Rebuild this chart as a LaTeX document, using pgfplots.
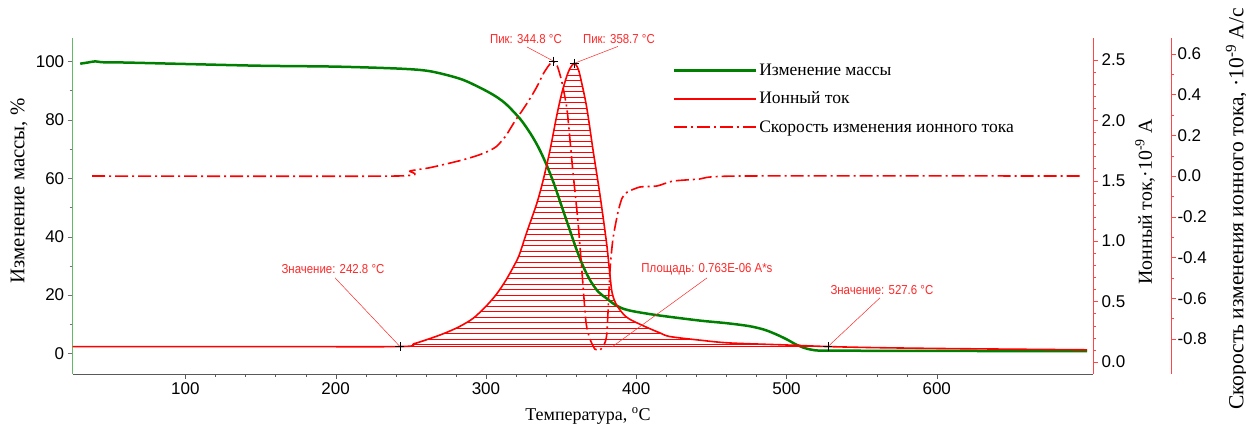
\documentclass[border=0pt]{standalone}
\usepackage{fontspec}
\setmainfont{Liberation Serif}
\newfontfamily\arialfont{Liberation Sans}
\newfontfamily\annfont[FakeStretch=0.88]{Liberation Sans}
\usepackage{pgfplots}
\pgfplotsset{compat=1.18}
\usepackage{pgfplotstable}
\usepgfplotslibrary{fillbetween}
\usetikzlibrary{patterns}

\definecolor{mgreen}{RGB}{0,128,0}
\definecolor{axgreen}{RGB}{100,185,100}
\definecolor{cred}{RGB}{255,0,0}
\definecolor{axred}{RGB}{255,70,70}
\definecolor{ann}{RGB}{255,40,40}

\pgfdeclarepatterninherentlycolored{redhlines}{\pgfpoint{-1pt}{-1pt}}{\pgfpoint{11pt}{6.5pt}}{\pgfpoint{10pt}{5.5pt}}{%
  \pgfsetcolor{cred}\pgfsetlinewidth{0.8pt}%
  \pgfpathmoveto{\pgfpoint{-1pt}{2.75pt}}\pgfpathlineto{\pgfpoint{11pt}{2.75pt}}\pgfusepath{stroke}}

\pgfplotstableread{
T M
30 99.2
35 99.6
40 100.0
45 99.7
60 99.6
100 99.1
150 98.5
200 98.2
243 97.5
263 96.6
283 94.0
296 91.0
305 88.5
312 86.0
318 83.0
324 79.5
330 75.0
335 70.5
340 65.0
345 58.5
350 51.0
355 43.5
360 36.0
365 29.5
370 24.5
375 21.0
380 19.0
385 17.0
390 15.6
395 14.8
402 14.1
415.8 13
442 11.3
460 10.4
475 9.4
485 8.2
493 6.6
500 4.9
506 3.2
512 1.9
518 1.2
527.6 1.0
600 0.9
700 0.8
}\massdata

\pgfplotstableread{
T I
25 0.127
150 0.127
242.8 0.127
252 0.15
262 0.19
272 0.235
282 0.29
291.4 0.36
300 0.46
307 0.56
313 0.67
318 0.78
322 0.88
327.1 1.07
333.8 1.31
338 1.5
342.6 1.75
347 2.03
350.4 2.22
353.7 2.36
356 2.43
358.7 2.47
360.8 2.44
362.6 2.37
367 2.11
371.3 1.75
375.9 1.38
380.3 0.98
382.5 0.72
384 0.57
387 0.47
393.6 0.37
404.5 0.30
415.8 0.24
422.4 0.21
442.4 0.18
462 0.157
500 0.14
527.6 0.127
560 0.118
610 0.11
700 0.10
}\iondata

\pgfplotstableread{
T R
38 0
240 0
249.5 0.025
262 0.04
274 0.06
285 0.08
294 0.10
301 0.12
307 0.145
313 0.195
319.3 0.27
324 0.32
329.3 0.38
334 0.44
338 0.50
341.5 0.54
344.8 0.565
347.5 0.54
350.6 0.46
353.9 0.33
355.9 0.18
357.9 0.02
361.2 -0.22
363.9 -0.47
366.6 -0.72
369.2 -0.80
372.5 -0.85
375.9 -0.855
378.5 -0.83
380.5 -0.77
382.5 -0.47
384.5 -0.31
387.8 -0.18
390.5 -0.11
393.8 -0.08
402.5 -0.054
413.8 -0.049
424.4 -0.025
442 -0.015
469 0
697 0
}\ratedata

\tikzset{
  annot/.style={text=ann, font=\annfont\fontsize{13}{13}\selectfont, inner sep=0pt},
  lead/.style={draw=ann, line width=0.5pt},
}

\begin{document}
\begin{tikzpicture}
\pgfplotsset{
  common/.style={scale only axis, height=336pt, at={(0pt,0pt)}, anchor=south west,
    xmin=25, tick align=outside, major tick length=5pt, minor tick length=3pt,
    /pgf/number format/assume math mode=true,
    ticklabel style={font=\arialfont\fontsize{17}{17}\selectfont},
  },
}
% ---------- mass axis ----------
\begin{axis}[common, width=1020.3pt, xmax=704, ymin=-7, ymax=108,
  axis x line*=bottom, axis y line*=left,
  x axis line style={draw=black!65}, y axis line style={draw=axgreen},
  xtick={100,200,...,600}, minor x tick num=4,
  ytick={0,20,...,100}, minor y tick num=1,
  x tick style={black!65}, y tick style={black!55},
  xlabel={Температура, \textsuperscript{o}C},
  ylabel={Изменение массы, \%},
  every axis x label/.style={at={(axis description cs:0.505,-0.125)}, anchor=center, font=\fontsize{18}{18}\selectfont},
  every axis y label/.style={at={(axis description cs:-0.0526,0.545)}, rotate=90, anchor=center, font=\fontsize{20.8}{20.8}\selectfont},
  legend style={at={(axis description cs:0.585,0.935)}, anchor=north west, draw=none, fill=none,
    font=\fontsize{17.5}{17.5}\selectfont, row sep=11pt, legend cell align=left},
  legend image code/.code={\draw[#1] (0pt,0pt) -- (82pt,0pt);},
]
\addplot[mgreen, line width=2.5pt, smooth, tension=0.5, forget plot] table[x=T,y=M] {\massdata};
\addlegendimage{mgreen, line width=2.5pt}
\addlegendentry{Изменение массы}
\addlegendimage{cred, line width=2pt}
\addlegendentry{Ионный ток}
\addlegendimage{cred, line width=1.6pt, dash pattern=on 13pt off 4pt on 2pt off 4pt}
\addlegendentry{Скорость изменения ионного тока}
\end{axis}
% ---------- ion current axis ----------
\begin{axis}[common, width=1020.3pt, xmax=704, ymin=-0.1, ymax=2.68, clip=false,
  axis y line*=right, axis x line=none,
  y axis line style={draw=axred}, y tick style={axred},
  ytick={0,0.5,...,2.5}, minor y tick num=4,
  yticklabel style={/pgf/number format/.cd, fixed, fixed zerofill, precision=1},
  ylabel={Ионный ток,·10\textsuperscript{-9} A},
  every axis y label/.style={at={(axis description cs:1.051,0.512)}, rotate=90, anchor=center, font=\fontsize{19.8}{19.8}\selectfont},
]
\addplot[name path=ion, cred, line width=1.6pt, smooth, tension=0.5] table[x=T,y=I] {\iondata};
\addplot[name path=base, cred, line width=0.8pt] coordinates {(242.8,0.127) (527.6,0.127)};
\addplot[pattern=redhlines, draw=none]
  fill between[of=ion and base, soft clip={domain=242.8:527.6}];
\addplot[only marks, mark=+, mark size=4.5pt, black, mark options={line width=0.7pt}]
  coordinates {(242.8,0.127) (527.6,0.127) (358.7,2.47)};
\node[annot] at (axis cs:198.2,0.77) {Значение: 242.8 °C};
\draw[lead] (axis cs:199.6,0.695) -- (axis cs:242.8,0.127);
\node[annot] at (axis cs:563.5,0.596) {Значение: 527.6 °C};
\draw[lead] (axis cs:562.2,0.53) -- (axis cs:527.6,0.127);
\node[annot] at (axis cs:447.1,0.77) {Площадь: 0.763E-06 A*s};
\draw[lead] (axis cs:447.1,0.695) -- (axis cs:383.9,0.124);
\node[annot] at (axis cs:388.5,2.674) {Пик: 358.7 °C};
\draw[lead] (axis cs:387.8,2.61) -- (axis cs:358.7,2.47);
\end{axis}
% ---------- rate axis ----------
\begin{axis}[common, width=1098.3pt, xmax=755.9, ymin=-0.9725, ymax=0.678, clip=false,
  axis y line*=right, axis x line=none,
  y axis line style={draw=axred}, y tick style={axred},
  ytick={-0.8,-0.6,...,0.6}, minor y tick num=1,
  yticklabel style={xshift=-2pt, /pgf/number format/.cd, fixed, fixed zerofill, precision=1},
  ylabel={Скорость изменения ионного тока, ·10\textsuperscript{-9} A/c},
  every axis y label/.style={at={(axis description cs:1.060,0.491)}, rotate=90, anchor=center, font=\fontsize{21.5}{21.5}\selectfont},
]
\addplot[cred, line width=1.6pt, dash pattern=on 13pt off 4pt on 2pt off 4pt, smooth, tension=0.4] table[x=T,y=R] {\ratedata};
\addplot[only marks, mark=+, mark size=4.5pt, black, mark options={line width=0.7pt}]
  coordinates {(344.8,0.565)};
\node[annot] at (axis cs:326.6,0.673) {Пик: 344.8 °C};
\draw[lead] (axis cs:327.3,0.634) -- (axis cs:344.8,0.565);
\end{axis}
\pgfresetboundingbox
\path[use as bounding box] (-72.7pt,-56pt) rectangle (1173.3pt,374pt);
\end{tikzpicture}
\end{document}
